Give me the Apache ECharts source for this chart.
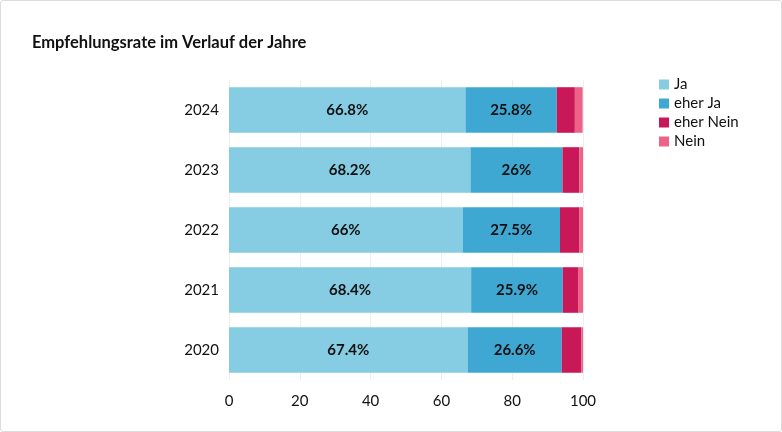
<!DOCTYPE html>
<html><head><meta charset="utf-8">
<script src="https://cdn.jsdelivr.net/npm/echarts@6/dist/echarts.min.js"></script>
<style>
html,body{margin:0;padding:0;background:#fff;}
#wrap{position:absolute;left:0;top:0;width:780px;height:430px;border:1px solid #dcdcdc;border-radius:3px;}
#c{width:780px;height:430px;}
</style></head>
<body><div id="wrap"><div id="c"></div></div>
<script>
var years = ['2020','2021','2022','2023','2024'];
var seriesNames = ['Ja','eher Ja','eher Nein','Nein'];
var ja = [67.4, 68.4, 66.0, 68.2, 66.8];
var eherJa = [26.6, 25.9, 27.5, 26.0, 25.8];
var eherNein = [5.5, 4.3, 5.4, 4.8, 5.1];
var nein = [0.5, 1.4, 1.1, 1.0, 2.2];
var xTicks = [0, 20, 40, 60, 80, 100];
var colors = ['#86cde3', '#3ea8d3', '#c81858', '#ee6288'];

var font = 'Lato, "Open Sans", sans-serif';
var chart = echarts.init(document.getElementById('c'), null, {renderer:'canvas'});
var data = [ja, eherJa, eherNein, nein];
var series = seriesNames.map(function(n, i){
  return {
    name: n, type: 'bar', stack: 'total', data: data[i],
    barCategoryGap: '24%',
    itemStyle: {color: colors[i]},
    label: {
      show: i < 2, position: 'inside', color: '#111', fontWeight: 'bold',
      fontSize: 15, fontFamily: font,
      formatter: function(p){ return p.value + '%'; }
    },
    emphasis: {disabled: true}
  };
});
chart.setOption({
  animation: false,
  title: {text: 'Empfehlungsrate im Verlauf der Jahre', left: 26, top: 28,
    textStyle: {fontSize: 16.5, fontWeight: 'bold', color: '#111', fontFamily: font}},
  legend: {orient: 'vertical', left: 658, top: 76, padding: 0, itemWidth: 10, itemHeight: 10,
    itemGap: 4, icon: 'rect',
    textStyle: {fontSize: 15, color: '#111', fontFamily: font},
    data: seriesNames},
  grid: {left: 228, right: 198, top: 79, bottom: 51, containLabel: false},
  xAxis: {type: 'value', min: xTicks[0], max: xTicks[xTicks.length-1], interval: 20,
    axisLine: {show: false}, axisTick: {show: false},
    splitLine: {show: true, lineStyle: {color: '#eeeeee', width: 1}},
    axisLabel: {fontSize: 15, color: '#111', fontFamily: font, margin: 14}},
  yAxis: {type: 'category', data: years,
    axisLine: {show: false}, axisTick: {show: false},
    axisLabel: {fontSize: 15, color: '#111', fontFamily: font, margin: 10}},
  series: series
});
</script></body></html>
